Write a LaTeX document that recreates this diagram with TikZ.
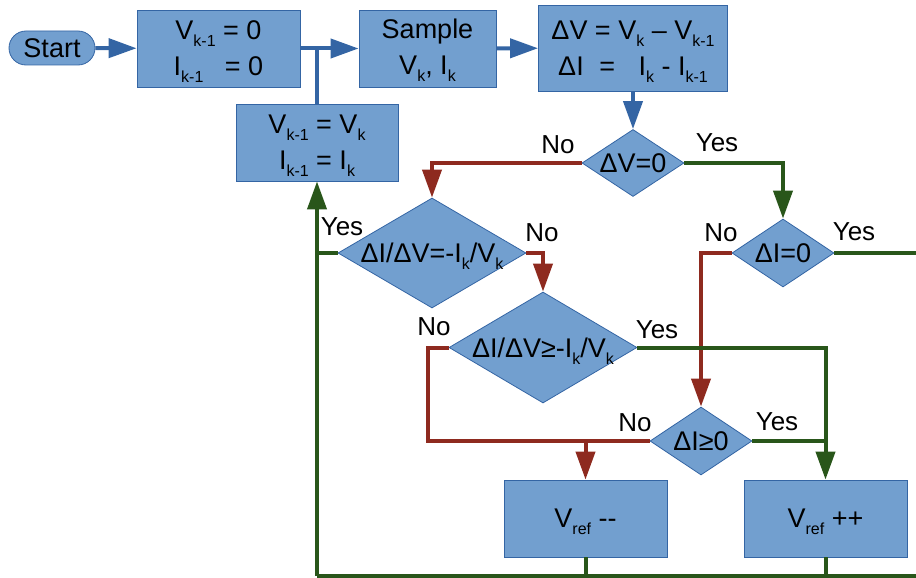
\documentclass[tikz,border=0pt]{standalone}
\usepackage{fontspec}
\setmainfont{Liberation Sans}
\usetikzlibrary{arrows.meta,shapes.geometric}
\definecolor{boxfill}{HTML}{729FCF}
\definecolor{boxline}{HTML}{3465A4}
\definecolor{myred}{HTML}{8E2A1F}
\definecolor{mygreen}{HTML}{29561A}
\newcommand\sbs[1]{\raisebox{-7pt}[0pt][0pt]{\fontsize{16}{16}\selectfont #1}}
\begin{document}
\begin{tikzpicture}[x=1pt,y=-1pt,
  txt/.style={font=\fontsize{27}{36}\selectfont, inner sep=0pt, align=center},
  lab/.style={font=\fontsize{26}{30}\selectfont, inner sep=0pt},
  box/.style={rectangle, draw=boxline, fill=boxfill, line width=0.8pt, inner sep=0pt, align=center, font=\fontsize{27}{36}\selectfont},
  dia/.style={diamond, draw=boxline, fill=boxfill, line width=0.8pt, inner sep=0pt},
  tip/.style={-{Triangle[length=28pt,width=19pt]}},
  bl/.style={draw=boxline, line width=4pt},
  rd/.style={draw=myred, line width=4pt},
  gr/.style={draw=mygreen, line width=4pt},
]
\useasboundingbox (0,0) rectangle (916,578);

% nodes
\node[box, rounded corners=17pt, minimum width=86, minimum height=34] (start) at (52,48) {Start};
\node[box, minimum width=163, minimum height=77] (b1) at (218.5,48.5) {V\sbs{k-1} = 0\\I\sbs{k-1}\hspace{14pt} = 0};
\node[box, minimum width=137, minimum height=77] (b2) at (427.5,48.5) {Sample\\V\sbs{k}, I\sbs{k}};
\node[box, minimum width=189, minimum height=86] (b3) at (633,48) {ΔV = V\sbs{k} – V\sbs{k-1}\\ΔI\hspace{8pt} =\hspace{16pt} I\sbs{k} - I\sbs{k-1}};
\node[box, minimum width=162, minimum height=77] (b4) at (317,142.5) {V\sbs{k-1} = V\sbs{k}\\I\sbs{k-1} = I\sbs{k}};

\node[dia, minimum width=102, minimum height=67] (d1) at (633,163) {};
\node[txt] (d1t) at (d1) {ΔV=0};
\node[dia, minimum width=188, minimum height=110] (d2) at (432,253) {};
\node[txt] (d2t) at (d2) {ΔI/ΔV=-I\sbs{k}/V\sbs{k}};
\node[dia, minimum width=188, minimum height=111] (d3) at (543,347.5) {};
\node[txt] (d3t) at (d3) {ΔI/ΔV≥-I\sbs{k}/V\sbs{k}};
\node[dia, minimum width=102, minimum height=68] (d4) at (783,253) {};
\node[txt] (d4t) at (d4) {ΔI=0};
\node[dia, minimum width=102, minimum height=68] (d5) at (701,441) {};
\node[txt] (d5t) at (d5) {ΔI≥0};

\node[box, minimum width=163, minimum height=77] (v1) at (585.5,518.5) {V\sbs{ref} -{}-};
\node[box, minimum width=163, minimum height=77] (v2) at (825.5,518.5) {V\sbs{ref} ++};

\coordinate (botL) at (317,576);
\coordinate (botR) at (918,576);
\coordinate (rightE) at (918,253);
\coordinate (redL) at (428,441);

% blue connectors
\draw[bl,tip] (start) -- (b1);
\draw[bl,tip] (b1) -- (b2);
\draw[bl] (b4.north) -- (b4.north |- b1.east);
\draw[bl,tip] (b2) -- (b3);
\draw[bl,tip] (b3) -- (d1);

% red connectors
\draw[rd,tip] (d1.west) -| (d2.north);
\draw[rd,tip] (d2.east) -| (d3.north);
\draw[rd] (d3.west) -| (redL) -- (d5.west);
\draw[rd,tip] (v1.north |- d5.west) -- (v1.north);
\draw[rd,tip] (d4.west) -| (d5.north);

% green connectors
\draw[gr,tip] (d1.east) -| (d4.north);
\draw[gr] (d2.west) -- (d2.west -| botL);
\draw[gr,tip] (botL) -- (b4.south);
\draw[gr] (botL) -- (botR);
\draw[gr,tip] (d3.east) -| (v2.north);
\draw[gr] (d5.east) -- (d5.east -| v2.north);
\draw[gr] (d4.east) -- (rightE);
\draw[gr] (v1.south) -- (v1.south |- botL);
\draw[gr] (v2.south) -- (v2.south |- botL);

% labels
\node[lab] (l1) at (558,145) {No};
\node[lab] (l2) at (717,143) {Yes};
\node[lab] (l3) at (342,227) {Yes};
\node[lab] (l4) at (542,233) {No};
\node[lab] (l5) at (434,327) {No};
\node[lab] (l6) at (657,330) {Yes};
\node[lab] (l7) at (721,233) {No};
\node[lab] (l8) at (854,232) {Yes};
\node[lab] (l9) at (635,423) {No};
\node[lab] (l10) at (777,422) {Yes};
\end{tikzpicture}
\end{document}
